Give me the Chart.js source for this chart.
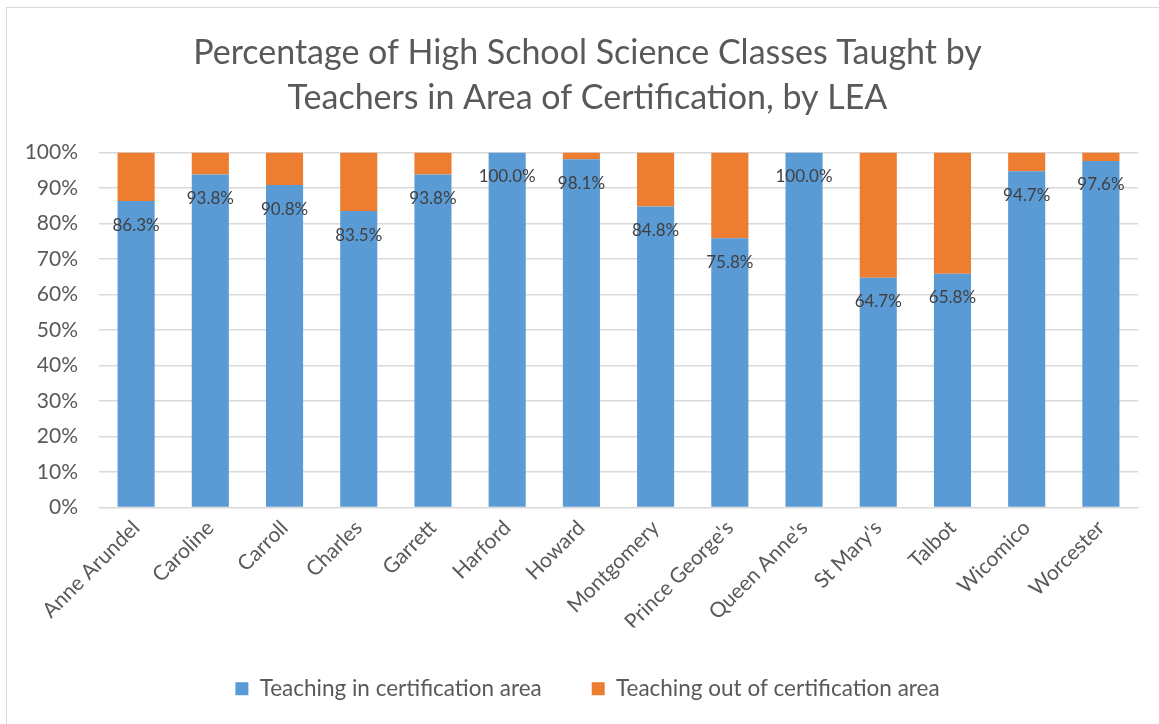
<!DOCTYPE html>
<html>
<head>
<meta charset="utf-8">
<script src="https://cdn.jsdelivr.net/npm/chart.js@4"></script>
<style>
  html, body { margin: 0; padding: 0; background: #fff; overflow: hidden; }
  .frame { position: absolute; left: 6px; top: 7px; width: 1170px; height: 730px; border: 1px solid #d9d9d9; }
  .wrap { position: absolute; left: 0; top: 0; width: 1175px; height: 724px; }
</style>
</head>
<body>
<div class="frame"></div>
<div class="wrap"><canvas id="c"></canvas></div>
<script>
// LEA names and the two shares
const LEAS = ['Anne Arundel', 'Caroline', 'Carroll', 'Charles', 'Garrett', 'Harford', 'Howard',
  'Montgomery', "Prince George's", "Queen Anne's", "St Mary's", 'Talbot', 'Wicomico', 'Worcester'];
const IN_AREA  = [86.3, 93.8, 90.8, 83.5, 93.8, 100.0, 98.1, 84.8, 75.8, 100.0, 64.7, 65.8, 94.7, 97.6];
const OUT_AREA = [13.7, 6.2, 9.2, 16.5, 6.2, 0.0, 1.9, 15.2, 24.2, 0.0, 35.3, 34.2, 5.3, 2.4];
const Y_TICKS  = [0, 10, 20, 30, 40, 50, 60, 70, 80, 90, 100];

const FONT = 'Lato, "Open Sans", sans-serif';
const GREY = '#595959';

// values written just under the top of each blue bar
const barLabels = {
  id: 'barLabels',
  afterDatasetsDraw(chart) {
    const { ctx } = chart;
    const meta = chart.getDatasetMeta(0);
    ctx.save();
    ctx.font = '17px ' + FONT;
    ctx.fillStyle = '#404040';
    ctx.textAlign = 'center';
    ctx.textBaseline = 'middle';
    meta.data.forEach((bar, i) => {
      ctx.fillText(IN_AREA[i].toFixed(1) + '%', bar.x, bar.y + 24);
    });
    ctx.restore();
  },
};

new Chart(document.getElementById('c'), {
  type: 'bar',
  data: {
    labels: LEAS,
    datasets: [
      { label: 'Teaching in certification area', data: IN_AREA, backgroundColor: '#5b9bd5' },
      { label: 'Teaching out of certification area', data: OUT_AREA, backgroundColor: '#ed7d31' },
    ],
  },
  options: {
    responsive: true, maintainAspectRatio: false, animation: false,
    layout: { padding: { top: 0, right: 0, bottom: 14, left: 0 } },
    datasets: { bar: { barPercentage: 0.5, categoryPercentage: 1 } },
    plugins: {
      title: {
        display: true,
        text: ['Percentage of High School Science Classes Taught by', 'Teachers in Area of Certification, by LEA'],
        color: GREY,
        font: { family: FONT, size: 34, weight: 'normal', lineHeight: 1.33 },
        padding: { top: 30, bottom: 32 },
      },
      legend: {
        position: 'bottom',
        labels: { color: GREY, font: { family: FONT, size: 22.5 }, boxWidth: 13, boxHeight: 13, padding: 50 },
      },
      tooltip: { enabled: false },
    },
    scales: {
      x: {
        stacked: true,
        grid: { display: false, drawTicks: false },
        border: { color: '#d9d9d9' },
        ticks: { color: GREY, font: { family: FONT, size: 21 }, minRotation: 45, maxRotation: 45, padding: 8 },
        afterFit: s => { s.height = 120; },
      },
      y: {
        stacked: true, min: 0, max: 100,
        afterBuildTicks: s => { s.ticks = Y_TICKS.map(v => ({ value: v })); },
        grid: { color: '#d9d9d9', drawTicks: false, lineWidth: 1.5 },
        border: { display: false },
        ticks: { color: GREY, font: { family: FONT, size: 21 }, padding: 21, callback: v => v + '%' },
        afterFit: s => { s.width = 99; },
      },
      // empty right-hand gutter so the plot stops where the frame's inner margin is
      gutter: {
        position: 'right', display: true,
        grid: { display: false, drawTicks: false }, border: { display: false },
        ticks: { display: false },
        afterFit: s => { s.width = 37; },
      },
    },
  },
  plugins: [barLabels],
});
</script>
</body>
</html>
